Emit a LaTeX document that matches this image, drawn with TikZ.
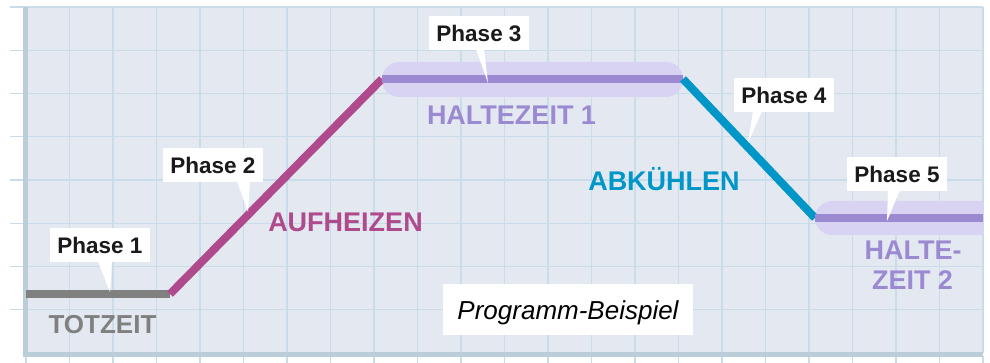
\documentclass[tikz,border=0pt]{standalone}
\usepackage{fontspec}
\setmainfont{Liberation Sans}
\usetikzlibrary{calc}
\definecolor{bgc}{RGB}{228,233,241}
\definecolor{gridc}{RGB}{200,221,233}
\definecolor{axisc}{RGB}{187,205,217}
\definecolor{grayc}{RGB}{128,128,128}
\definecolor{magc}{RGB}{175,74,140}
\definecolor{bluec}{RGB}{0,150,200}
\definecolor{purc}{RGB}{155,138,210}
\definecolor{bandc}{RGB}{216,210,243}
\definecolor{txtc}{RGB}{26,26,26}
\begin{document}
\begin{tikzpicture}[x=1pt,y=-1pt,
  phasebox/.style={fill=white, minimum width=100pt, minimum height=34pt, inner sep=0pt,
    font=\fontsize{22.5}{22.5}\selectfont\bfseries, text=txtc},
  curve/.style={line width=8pt},
  biglabel/.style={font=\fontsize{27}{27}\selectfont\bfseries, anchor=base, inner sep=0pt},
  gridline/.style={gridc, line width=1.3pt},
  ptr/.style={fill=white}]
\useasboundingbox (0,0) rectangle (990,363);
% background
\fill[bgc] (26,7) rectangle (983,353);
% grid
\foreach \i in {1,...,22} \draw[gridline] ({26+43.5*\i},7) -- ({26+43.5*\i},353);
\foreach \j in {0,...,7} \draw[gridline] (10,{7+43.25*\j}) -- (983,{7+43.25*\j});
\foreach \i in {0,...,22} \draw[gridline] ({26+43.5*\i},356) -- ({26+43.5*\i},363);
% axes
\fill[axisc] (23,7) rectangle (28,356.5);
\fill[axisc] (23,351.5) rectangle (983,356.5);
% bands
\fill[bandc, rounded corners=17pt] (382,62) rectangle (683,97);
\begin{scope}
  \clip (26,7) rectangle (983,353);
  \fill[bandc, rounded corners=17pt] (815,201) rectangle (1010,235);
\end{scope}
% curve
\coordinate (p0) at (26,294);
\coordinate (p1) at (170,294);
\coordinate (p2) at (382,79);
\coordinate (p3) at (683,79);
\coordinate (p4) at (815,218);
\coordinate (p5) at (983,218);
\draw[curve, grayc] (p0) -- (p1);
\draw[curve, magc] (p1) -- (p2);
\draw[curve, purc] (p2) -- (p3);
\draw[curve, bluec] (p3) -- (p4);
\draw[curve, purc] (p4) -- (p5);
% callouts
\node[phasebox] (ph1) at (100,245) {Phase 1};
\coordinate (t1) at (110,292);
\fill[ptr] ($(ph1.south)+(-2,-1)$) -- (t1) -- ($(ph1.south)+(12,-1)$) -- cycle;
\node[phasebox] (ph2) at (213,165) {Phase 2};
\coordinate (t2) at (248,212);
\fill[ptr] ($(ph2.south)+(24,-1)$) -- (t2) -- ($(ph2.south)+(37,-1)$) -- cycle;
\node[phasebox] (ph3) at (479,33) {Phase 3};
\coordinate (t3) at (488,83);
\fill[ptr] ($(ph3.south)+(-3,-1)$) -- (t3) -- ($(ph3.south)+(5,-1)$) -- cycle;
\node[phasebox] (ph4) at (784,95) {Phase 4};
\coordinate (t4) at (748,143);
\fill[ptr] ($(ph4.south)+(-31,-1)$) -- (t4) -- ($(ph4.south)+(-22,-1)$) -- cycle;
\node[phasebox] (ph5) at (897,174) {Phase 5};
\coordinate (t5) at (887,221);
\fill[ptr] ($(ph5.south)+(-9,-1)$) -- (t5) -- ($(ph5.south)+(3,-1)$) -- cycle;
% labels
\node[biglabel, text=grayc, font=\fontsize{26}{26}\selectfont\bfseries] (l1) at (102.5,333) {TOTZEIT};
\node[biglabel, text=magc] (l2) at (345.5,232) {AUFHEIZEN};
\node[biglabel, text=purc] (l3) at (511.5,125) {HALTEZEIT 1};
\node[biglabel, text=bluec] (l4) at (664,191) {ABKÜHLEN};
\node[biglabel, text=purc] (l5a) at (913,260) {HALTE-};
\node[biglabel, text=purc] (l5b) at (912.5,289) {ZEIT 2};
\node[fill=white, font=\fontsize{26}{26}\selectfont\itshape, text=black, anchor=base,
  text height=22pt, text depth=3pt, inner ysep=13pt, inner xsep=0pt, minimum width=250pt]
  (prog) at (568,319) {Programm-Beispiel};
\end{tikzpicture}
\end{document}
